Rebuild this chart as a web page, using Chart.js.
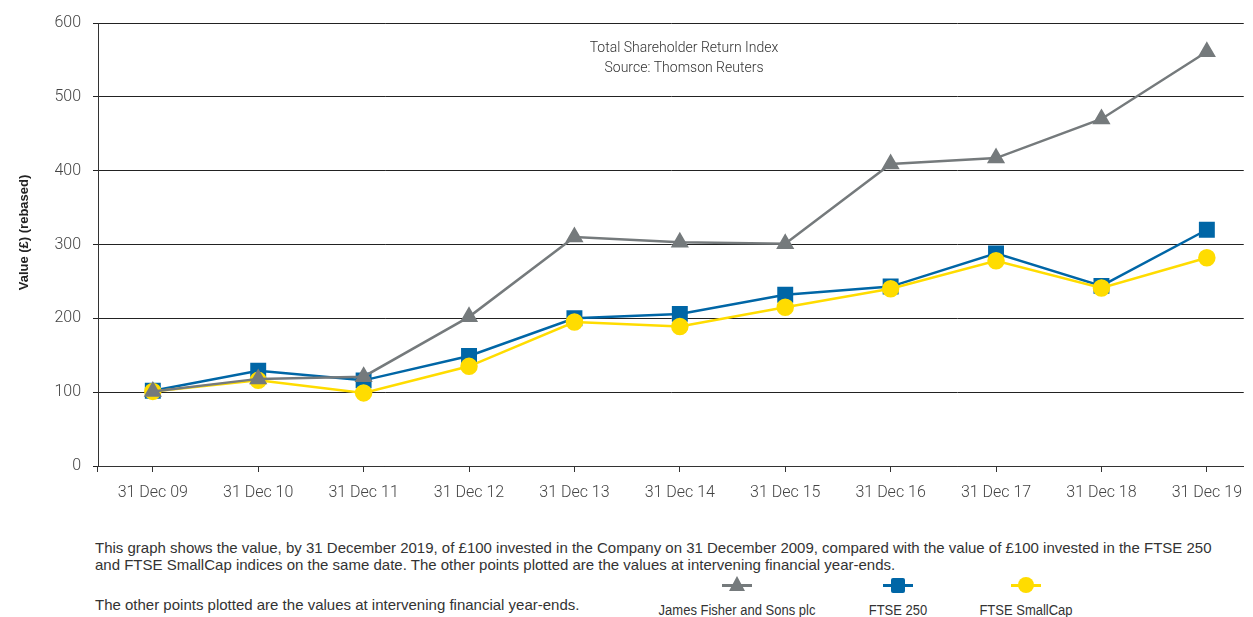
<!DOCTYPE html>
<html>
<head>
<meta charset="utf-8">
<script src="https://cdn.jsdelivr.net/npm/chart.js@4.4.1/dist/chart.umd.min.js"></script>
<style>
  body { margin: 0; background: #fff; width: 1253px; height: 617px; overflow: hidden; position: relative; font-family: Roboto, "Liberation Sans", sans-serif; }
  #wrap { position: absolute; left: 0; top: 0; width: 1253px; height: 506px; }
  .note { position: absolute; left: 95px; font-family: "Liberation Sans Narrow", "Liberation Sans", sans-serif; font-size: 15px; color: #333; white-space: nowrap; line-height: 17px; }
  .leg { position: absolute; top: 575px; width: 200px; text-align: center; font-family: "Liberation Sans Narrow", "Liberation Sans", sans-serif; font-size: 13px; color: #333; line-height: 16px; }
  .leg .mk { position: relative; width: 30px; height: 20px; margin: 0 auto 7px auto; }
  .leg .ln { position: absolute; left: 0; top: 9px; width: 30px; height: 3px; }
  .leg .sh { position: absolute; }
  .leg .tx { display: inline-block; transform: scaleY(1.15); }
</style>
</head>
<body>
<div id="wrap"><canvas id="myChart" width="1253" height="506"></canvas></div>
<div class="note" style="top:539px">This graph shows the value, by 31 December 2019, of £100 invested in the Company on 31 December 2009, compared with the value of £100 invested in the FTSE 250<br>and FTSE SmallCap indices on the same date. The other points plotted are the values at intervening financial year-ends.</div>
<div class="note" style="top:596px">The other points plotted are the values at intervening financial year-ends.</div>
<div id="legend"></div>
<script>
const categories = ['31 Dec 09', '31 Dec 10', '31 Dec 11', '31 Dec 12', '31 Dec 13', '31 Dec 14', '31 Dec 15', '31 Dec 16', '31 Dec 17', '31 Dec 18', '31 Dec 19'];
const seriesNames = ['James Fisher and Sons plc', 'FTSE 250', 'FTSE SmallCap'];
const jamesFisher = [101, 118, 121, 202, 310, 303, 301, 409, 417, 470, 561];
const ftse250 = [102, 129, 116, 149, 200, 206, 232, 243, 288, 244, 320];
const ftseSmallCap = [101, 116, 99, 135, 195, 189, 215, 240, 278, 241, 282];
const yTicks = [0, 100, 200, 300, 400, 500, 600];
const colors = ['#757a7c', '#0066a6', '#ffdc00'];

const toPoints = arr => arr.map((v, i) => ({ x: i, y: v }));

const notes = {
  id: 'notes',
  afterDraw(chart) {
    const c = chart.ctx, a = chart.chartArea;
    c.save();
    c.fillStyle = '#333';
    c.font = '300 14px Roboto';
    c.textAlign = 'center';
    c.textBaseline = 'middle';
    c.fillText('Total Shareholder Return Index', 684, 48);
    c.fillText('Source: Thomson Reuters', 684, 68);
    // y axis title
    c.translate(24, (a.top + a.bottom) / 2 - 12);
    c.rotate(-Math.PI / 2);
    c.font = 'bold 13px "Liberation Sans", Arial';
    c.fillStyle = '#222';
    c.fillText('Value (£) (rebased)', 0, 0);
    c.restore();
    // short tick at left corner below axis
    c.save();
    c.strokeStyle = '#333';
    c.lineWidth = 1;
    c.beginPath();
    c.moveTo(a.left - 0.5, a.bottom);
    c.lineTo(a.left - 0.5, a.bottom + 6);
    c.stroke();
    c.restore();
  }
};

const tickFont = { family: 'Roboto', weight: '300', size: 16 };

const ctx = document.getElementById('myChart');
const myChart = new Chart(ctx, {
  type: 'line',
  data: {
    datasets: [
      { label: seriesNames[0], data: toPoints(jamesFisher), borderColor: colors[0], backgroundColor: colors[0], pointStyle: 'triangle', pointRadius: 8, borderWidth: 2.5, order: 1 },
      { label: seriesNames[1], data: toPoints(ftse250), borderColor: colors[1], backgroundColor: colors[1], pointStyle: 'rect', pointRadius: 9.5, borderWidth: 2.5, order: 3 },
      { label: seriesNames[2], data: toPoints(ftseSmallCap), borderColor: colors[2], backgroundColor: colors[2], pointStyle: 'circle', pointRadius: 7.5, borderWidth: 2.5, order: 2 }
    ]
  },
  options: {
    responsive: false,
    animation: false,
    layout: { autoPadding: false, padding: { top: 23, right: 0, left: 0, bottom: 0 } },
    plugins: { legend: { display: false }, tooltip: { enabled: false } },
    elements: { point: { borderWidth: 0 }, line: { tension: 0 } },
    scales: {
      x: {
        type: 'linear',
        min: -0.52,
        max: 10.35,
        afterBuildTicks: s => { s.ticks = categories.map((c, i) => ({ value: i })); },
        afterFit: s => { s.height = 40; },
        ticks: { callback: v => categories[v], color: '#444', font: tickFont, padding: 11, maxRotation: 0, autoSkip: false },
        grid: { drawOnChartArea: false, tickLength: 6, color: '#333', lineWidth: 1 },
        border: { color: '#333', width: 1 }
      },
      y: {
        min: 0,
        max: 600,
        afterBuildTicks: s => { s.ticks = yTicks.map(v => ({ value: v })); },
        afterFit: s => { s.width = 98; },
        ticks: { color: '#444', font: tickFont, padding: 12 },
        grid: { color: '#222', lineWidth: 1, tickLength: 5 },
        border: { color: '#333', width: 1 }
      }
    }
  },
  plugins: [notes]
});

// html legend, marker above label
const legendX = [737, 898, 1026];
const legend = document.getElementById('legend');
seriesNames.forEach((name, i) => {
  const d = document.createElement('div');
  d.className = 'leg';
  d.style.left = (legendX[i] - 100) + 'px';
  let shape;
  if (i === 0) shape = `<div class="sh" style="left:7px;top:1px;width:0;height:0;border-left:8px solid transparent;border-right:8px solid transparent;border-bottom:15px solid ${colors[0]}"></div>`;
  else if (i === 1) shape = `<div class="sh" style="left:8px;top:3px;width:14px;height:15px;border-radius:2px;background:${colors[1]}"></div>`;
  else shape = `<div class="sh" style="left:7px;top:2px;width:16px;height:16px;border-radius:50%;background:${colors[2]}"></div>`;
  d.innerHTML = `<div class="mk"><div class="ln" style="background:${colors[i]}"></div>${shape}</div><div class="tx">${name}</div>`;
  legend.appendChild(d);
});
</script>
</body>
</html>
